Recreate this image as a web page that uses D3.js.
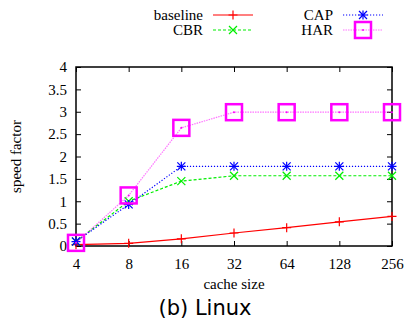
<!DOCTYPE html>
<html>
<head>
<meta charset="utf-8">
<script src="https://cdn.jsdelivr.net/npm/d3@7"></script>
<style>
  body { margin: 0; background: #fff; }
  svg { display: block; }
</style>
</head>
<body>
<div id="chart"></div>
<script>
const cacheSizes = ["4", "8", "16", "32", "64", "128", "256"];
const baseline = [0.03, 0.06, 0.16, 0.29, 0.41, 0.54, 0.66];
const cbr = [0.1, 1.0, 1.45, 1.57, 1.57, 1.57, 1.57];
const cap = [0.1, 0.93, 1.78, 1.78, 1.78, 1.78, 1.78];
const har = [0.07, 1.13, 2.64, 2.99, 2.99, 2.99, 2.99];
const yTicks = [0, 0.5, 1, 1.5, 2, 2.5, 3, 3.5, 4];

const ctx = {
    w: 405, h: 321,
    margin: {top: 67, right: 13, bottom: 75, left: 76},
    serif: "'Liberation Serif', 'DejaVu Serif', serif",
    sans: "'DejaVu Sans', sans-serif"
};

const series = [
    {name: "baseline", values: baseline, color: "#ff0000", dash: null, marker: "plus", lx: 203, ly: 15},
    {name: "CBR", values: cbr, color: "#00ee00", dash: "3,2", marker: "cross", lx: 203, ly: 30},
    {name: "CAP", values: cap, color: "#0000ff", dash: "1.2,1.8", marker: "star", lx: 333, ly: 15},
    {name: "HAR", values: har, color: "#ff00ff", dash: "1.5,1", marker: "square", lx: 333, ly: 30}
];

let svg = d3.select("#chart").append("svg")
    .attr("width", ctx.w)
    .attr("height", ctx.h);

let pw = ctx.w - ctx.margin.left - ctx.margin.right;
let ph = ctx.h - ctx.margin.top - ctx.margin.bottom;
let rootG = svg.append("g")
    .attr("transform", "translate(" + ctx.margin.left + "," + ctx.margin.top + ")");

let x = d3.scalePoint().domain(cacheSizes).range([0, pw]);
let y = d3.scaleLinear().domain([0, 4]).range([ph, 0]);

// axes, ticks drawn inward like gnuplot
function styleAxis(g) {
    g.select(".domain").remove();
    g.selectAll("line").attr("stroke", "#000").attr("stroke-width", 1);
    g.selectAll("text")
        .style("font-family", ctx.serif)
        .style("font-size", "15px")
        .attr("fill", "#000");
}
rootG.append("g")
    .call(d3.axisLeft(y).tickValues(yTicks).tickSize(-5).tickPadding(9).tickFormat(d3.format("")))
    .call(styleAxis);
rootG.append("g")
    .attr("transform", "translate(" + pw + ",0)")
    .call(d3.axisRight(y).tickValues(yTicks).tickSize(-5).tickFormat(""))
    .call(styleAxis);
rootG.append("g")
    .attr("transform", "translate(0," + ph + ")")
    .call(d3.axisBottom(x).tickSize(-5).tickPadding(12))
    .call(styleAxis);
rootG.append("g")
    .call(d3.axisTop(x).tickSize(-5).tickFormat(""))
    .call(styleAxis);

rootG.append("rect")
    .attr("width", pw).attr("height", ph)
    .attr("fill", "none")
    .attr("stroke", "#000")
    .attr("stroke-width", 1.5);

function drawMarker(g, type, cx, cy, color) {
    if (type === "plus" || type === "star") {
        g.append("path").attr("d", `M${cx - 4.5},${cy}H${cx + 4.5}M${cx},${cy - 4.5}V${cy + 4.5}`)
            .attr("stroke", color).attr("stroke-width", 1.2).attr("fill", "none");
    }
    if (type === "cross" || type === "star") {
        g.append("path").attr("d", `M${cx - 4},${cy - 4}L${cx + 4},${cy + 4}M${cx - 4},${cy + 4}L${cx + 4},${cy - 4}`)
            .attr("stroke", color).attr("stroke-width", 1.2).attr("fill", "none");
    }
    if (type === "square") {
        g.append("rect").attr("x", cx - 8).attr("y", cy - 8).attr("width", 16).attr("height", 16)
            .attr("stroke", color).attr("stroke-width", 2.5).attr("fill", "none");
        g.append("circle").attr("cx", cx).attr("cy", cy).attr("r", 1).attr("fill", color);
    }
}

let line = d3.line()
    .x((d, i) => x(cacheSizes[i]))
    .y(d => y(d));

let dataG = rootG.append("g");
for (let s of series) {
    dataG.append("path")
        .attr("d", line(s.values))
        .attr("fill", "none")
        .attr("stroke", s.color)
        .attr("stroke-width", 1.2)
        .attr("stroke-opacity", s.marker === "square" ? 0.55 : 1)
        .attr("stroke-dasharray", s.dash);
    s.values.forEach((v, i) => drawMarker(dataG, s.marker, x(cacheSizes[i]), y(v), s.color));
}

// legend
let legendG = svg.append("g");
for (let s of series) {
    legendG.append("text")
        .attr("x", s.lx).attr("y", s.ly + 5)
        .attr("text-anchor", "end")
        .style("font-family", ctx.serif)
        .style("font-size", "15px")
        .text(s.name);
    legendG.append("line")
        .attr("x1", s.lx + 10).attr("x2", s.lx + 50)
        .attr("y1", s.ly).attr("y2", s.ly)
        .attr("stroke", s.color)
        .attr("stroke-width", 1.2)
        .attr("stroke-opacity", s.marker === "square" ? 0.55 : 1)
        .attr("stroke-dasharray", s.dash);
    drawMarker(legendG, s.marker, s.lx + 30, s.ly, s.color);
}

// axis labels
svg.append("text")
    .attr("transform", "translate(21," + (ctx.margin.top + ph / 2) + ") rotate(-90)")
    .attr("text-anchor", "middle")
    .style("font-family", ctx.serif)
    .style("font-size", "15px")
    .text("speed factor");
svg.append("text")
    .attr("x", ctx.margin.left + pw / 2).attr("y", 289)
    .attr("text-anchor", "middle")
    .style("font-family", ctx.serif)
    .style("font-size", "15px")
    .text("cache size");
svg.append("text")
    .attr("x", 205).attr("y", 315)
    .attr("text-anchor", "middle")
    .style("font-family", ctx.sans)
    .style("font-size", "21px")
    .text("(b) Linux");
</script>
</body>
</html>
